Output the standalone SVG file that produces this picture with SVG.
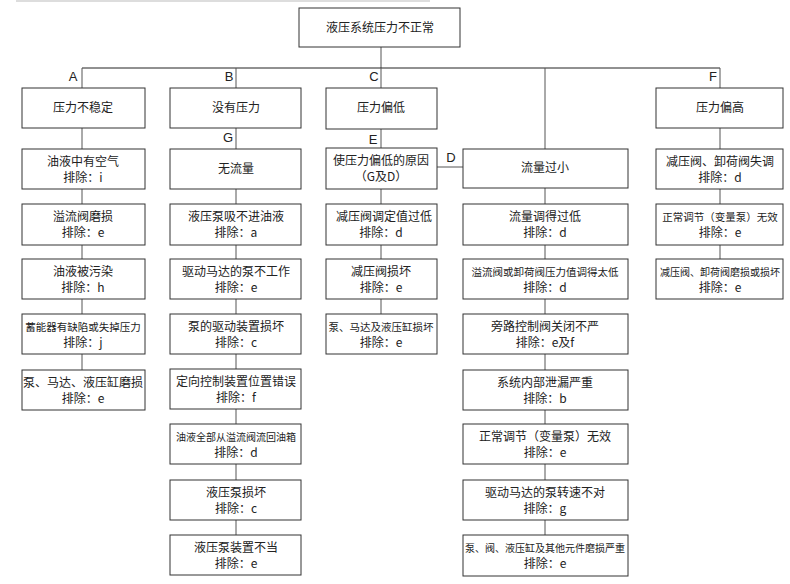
<svg xmlns="http://www.w3.org/2000/svg" width="790" height="584" viewBox="0 0 790 584">
<style>
.b{fill:#fff;stroke:#333;stroke-width:1}
.c{stroke:#555;stroke-width:1;fill:none}
text{font-family:"Noto Sans CJK SC","Liberation Sans",sans-serif;font-size:12px;fill:#222;text-anchor:middle}
.l{font-family:"Liberation Sans",sans-serif;font-size:13px}
.s{font-size:10.5px}
.t{font-size:10px}
</style>
<rect width="790" height="584" fill="#fff"/>
<line x1="16" y1="1" x2="430" y2="1" stroke="#bbb"/>
<g id="connectors">
<line class="c" x1="381" y1="47" x2="381" y2="68"/>
<line class="c" x1="82" y1="68" x2="720" y2="68" style="stroke:#222"/>
<line class="c" x1="82" y1="68" x2="82" y2="370"/>
<line class="c" x1="236" y1="68" x2="236" y2="535"/>
<line class="c" x1="381" y1="68" x2="381" y2="314"/>
<line class="c" x1="545" y1="68" x2="545" y2="535"/>
<line class="c" x1="720" y1="68" x2="720" y2="259"/>
<line class="c" x1="437" y1="167" x2="463" y2="167"/>
<text class="l" x="73" y="81">A</text>
<text class="l" x="229" y="81">B</text>
<text class="l" x="374" y="81">C</text>
<text class="l" x="713" y="81">F</text>
<text class="l" x="228" y="142">G</text>
<text class="l" x="373" y="144">E</text>
<text class="l" x="451" y="162">D</text>
</g>
<g id="top"><rect class="b" x="299" y="8" width="161" height="39"/><text x="380" y="32">液压系统压力不正常</text></g>
<g id="A1"><rect class="b" x="22" y="88" width="123" height="40"/><text x="83" y="112">压力不稳定</text></g>
<g id="A2"><rect class="b" x="22" y="149" width="123" height="40"/><text x="83" y="166">油液中有空气</text><text x="83" y="182">排除：i</text></g>
<g id="A3"><rect class="b" x="22" y="204" width="123" height="41"/><text x="83" y="221">溢流阀磨损</text><text x="83" y="237">排除：e</text></g>
<g id="A4"><rect class="b" x="22" y="259" width="123" height="40"/><text x="83" y="276">油液被污染</text><text x="83" y="292">排除：h</text></g>
<g id="A5"><rect class="b" x="22" y="314" width="123" height="40"/><text class="s" x="83" y="331">蓄能器有缺陷或失掉压力</text><text x="83" y="347">排除：j</text></g>
<g id="A6"><rect class="b" x="22" y="370" width="123" height="40"/><text x="83" y="387">泵、马达、液压缸磨损</text><text x="83" y="403">排除：e</text></g>
<g id="B1"><rect class="b" x="170" y="88" width="131" height="40"/><text x="236" y="112">没有压力</text></g>
<g id="B2"><rect class="b" x="170" y="149" width="131" height="40"/><text x="236" y="173">无流量</text></g>
<g id="B3"><rect class="b" x="170" y="204" width="131" height="41"/><text x="236" y="221">液压泵吸不进油液</text><text x="236" y="237">排除：a</text></g>
<g id="B4"><rect class="b" x="170" y="259" width="131" height="40"/><text x="236" y="276">驱动马达的泵不工作</text><text x="236" y="292">排除：e</text></g>
<g id="B5"><rect class="b" x="170" y="314" width="131" height="40"/><text x="236" y="331">泵的驱动装置损坏</text><text x="236" y="347">排除：c</text></g>
<g id="B6"><rect class="b" x="170" y="369" width="131" height="40"/><text x="236" y="386">定向控制装置位置错误</text><text x="236" y="402">排除：f</text></g>
<g id="B7"><rect class="b" x="170" y="424" width="131" height="40"/><text class="t" x="236" y="441">油液全部从溢流阀流回油箱</text><text x="236" y="457">排除：d</text></g>
<g id="B8"><rect class="b" x="170" y="480" width="131" height="40"/><text x="236" y="497">液压泵损坏</text><text x="236" y="513">排除：c</text></g>
<g id="B9"><rect class="b" x="170" y="535" width="131" height="40"/><text x="236" y="552">液压泵装置不当</text><text x="236" y="568">排除：e</text></g>
<g id="C1"><rect class="b" x="326" y="88" width="111" height="41"/><text x="381" y="112">压力偏低</text></g>
<g id="C2"><rect class="b" x="326" y="148" width="111" height="41"/><text x="381" y="165">使压力偏低的原因</text><text x="381" y="181">（G及D）</text></g>
<g id="C3"><rect class="b" x="326" y="204" width="111" height="41"/><text x="384" y="221">减压阀调定值过低</text><text x="381" y="237">排除：d</text></g>
<g id="C4"><rect class="b" x="326" y="259" width="111" height="40"/><text x="381" y="276">减压阀损坏</text><text x="381" y="292">排除：e</text></g>
<g id="C5"><rect class="b" x="326" y="314" width="111" height="40"/><text class="s" x="381" y="331">泵、马达及液压缸损坏</text><text x="381" y="347">排除：e</text></g>
<g id="D1"><rect class="b" x="463" y="149" width="165" height="39"/><text x="545" y="172">流量过小</text></g>
<g id="D2"><rect class="b" x="463" y="204" width="165" height="41"/><text x="545" y="221">流量调得过低</text><text x="545" y="237">排除：d</text></g>
<g id="D3"><rect class="b" x="463" y="259" width="165" height="40"/><text class="s" x="545" y="276">溢流阀或卸荷阀压力值调得太低</text><text x="545" y="292">排除：d</text></g>
<g id="D4"><rect class="b" x="463" y="314" width="165" height="40"/><text x="545" y="331">旁路控制阀关闭不严</text><text x="545" y="347">排除：e及f</text></g>
<g id="D5"><rect class="b" x="463" y="370" width="165" height="40"/><text x="545" y="387">系统内部泄漏严重</text><text x="545" y="403">排除：b</text></g>
<g id="D6"><rect class="b" x="463" y="424" width="165" height="40"/><text x="545" y="441">正常调节（变量泵）无效</text><text x="545" y="457">排除：e</text></g>
<g id="D7"><rect class="b" x="463" y="480" width="165" height="40"/><text x="545" y="497">驱动马达的泵转速不对</text><text x="545" y="513">排除：g</text></g>
<g id="D8"><rect class="b" x="463" y="535" width="165" height="41"/><text class="t" x="545" y="552">泵、阀、液压缸及其他元件磨损严重</text><text x="545" y="568">排除：e</text></g>
<g id="F1"><rect class="b" x="656" y="88" width="127" height="40"/><text x="720" y="112">压力偏高</text></g>
<g id="F2"><rect class="b" x="656" y="149" width="127" height="40"/><text x="720" y="166">减压阀、卸荷阀失调</text><text x="720" y="182">排除：d</text></g>
<g id="F3"><rect class="b" x="656" y="204" width="127" height="41"/><text class="s" x="720" y="221">正常调节（变量泵）无效</text><text x="720" y="237">排除：e</text></g>
<g id="F4"><rect class="b" x="656" y="259" width="127" height="40"/><text class="t" x="720" y="276">减压阀、卸荷阀磨损或损坏</text><text x="720" y="292">排除：e</text></g>
</svg>
